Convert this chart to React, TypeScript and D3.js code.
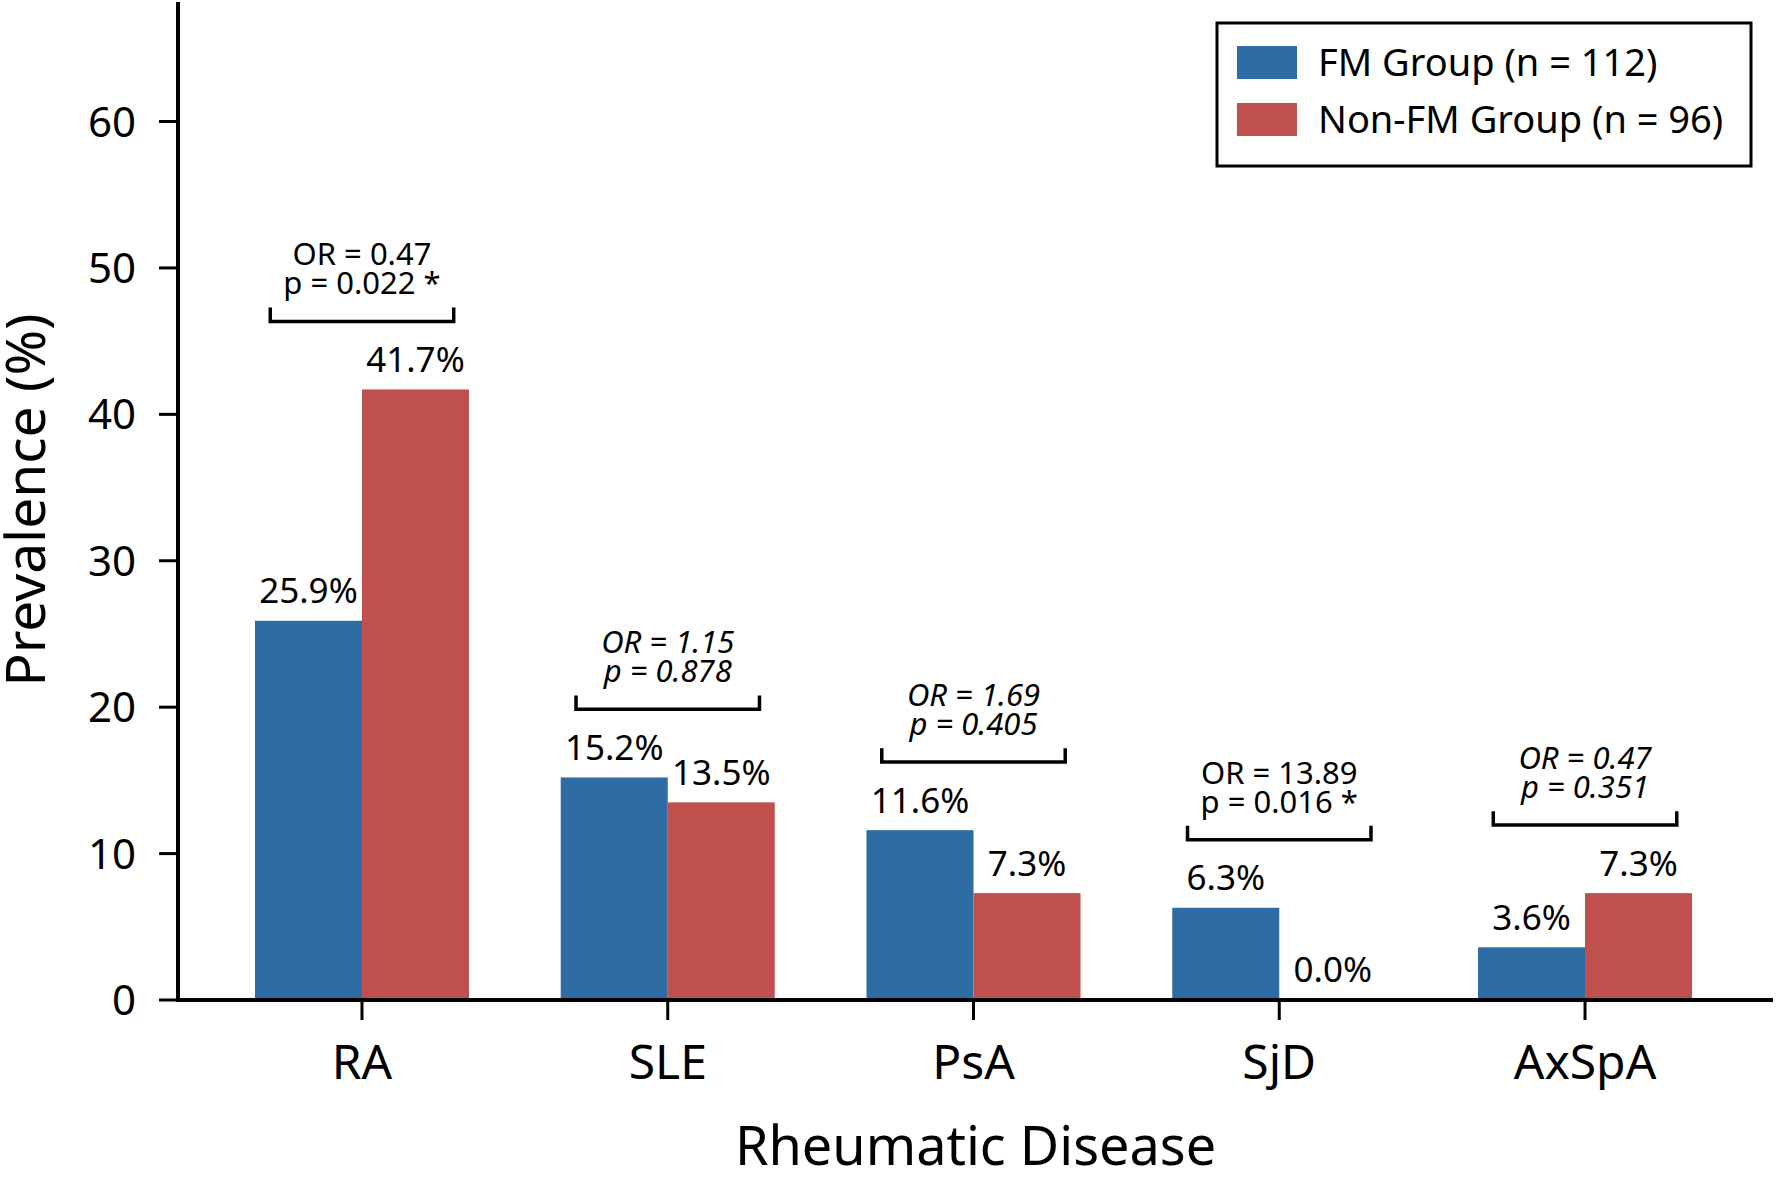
import * as d3 from "d3";

const diseases = ["RA", "SLE", "PsA", "SjD", "AxSpA"];
const fmValues = [25.9, 15.2, 11.6, 6.3, 3.6];
const nonFmValues = [41.7, 13.5, 7.3, 0.0, 7.3];
const oddsRatios = ["0.47", "1.15", "1.69", "13.89", "0.47"];
const pValues = ["0.022", "0.878", "0.405", "0.016", "0.351"];
const significant = [true, false, false, true, false];
const yTicks = [0, 10, 20, 30, 40, 50, 60];
const seriesNames = ["FM Group (n = 112)", "Non-FM Group (n = 96)"];
const seriesColors = ["#2E6DA4", "#C0504E"];

const W = 1776;
const H = 1179;
const left = 178;
const right = 1773;
const top = 0;
const bottom = 1000;
const yMax = 68.3;
const barWidth = 0.35;
const font = "'Noto Sans', 'Open Sans', sans-serif";

export default function App() {
    const x = d3.scalePoint<string>().domain(diseases).range([left - 1, right - 3]).padding(0.605);
    const step = x.step();
    const y = d3.scaleLinear().domain([0, yMax]).range([bottom, top]);
    const bw = barWidth * step;

    return (
        <svg
            width={W}
            height={H}
            viewBox={`0 0 ${W} ${H}`}
            style={{ position: "absolute", left: 0, top: 0, background: "white" }}
            fontFamily={font}
        >
            {/* bars */}
            {diseases.map((d, i) => {
                const cx = x(d)!;
                return (
                    <g key={d}>
                        <rect x={cx - bw} y={y(fmValues[i])} width={bw} height={y(0) - y(fmValues[i])} fill={seriesColors[0]} />
                        <rect x={cx} y={y(nonFmValues[i])} width={bw} height={y(0) - y(nonFmValues[i])} fill={seriesColors[1]} />
                        <text x={cx - bw / 2} y={y(fmValues[i] + 1.2)} textAnchor="middle" fontSize={35}>
                            {fmValues[i].toFixed(1)}%
                        </text>
                        <text x={cx + bw / 2} y={y(nonFmValues[i] + 1.2)} textAnchor="middle" fontSize={35}>
                            {nonFmValues[i].toFixed(1)}%
                        </text>
                    </g>
                );
            })}

            {/* comparison brackets */}
            {diseases.map((d, i) => {
                const cx = x(d)!;
                const by = Math.max(fmValues[i], nonFmValues[i]) + 4.65;
                const x1 = cx - 0.3 * step;
                const x2 = cx + 0.3 * step;
                const path = d3.path();
                path.moveTo(x1, y(by + 0.95));
                path.lineTo(x1, y(by));
                path.lineTo(x2, y(by));
                path.lineTo(x2, y(by + 0.95));
                const style = significant[i] ? "normal" : "italic";
                return (
                    <g key={"b" + d}>
                        <path d={path.toString()} fill="none" stroke="black" strokeWidth={3.5} />
                        <text x={cx} y={y(by + 3.82)} textAnchor="middle" fontSize={31} fontStyle={style}>
                            OR = {oddsRatios[i]}
                        </text>
                        <text x={cx} y={y(by + 1.85)} textAnchor="middle" fontSize={31} fontStyle={style}>
                            p = {pValues[i]}{significant[i] ? " *" : ""}
                        </text>
                    </g>
                );
            })}

            {/* y axis */}
            <line x1={left} x2={left} y1={y(yMax) + 2} y2={bottom} stroke="black" strokeWidth={4} />
            {yTicks.map((t) => (
                <g key={t}>
                    <line x1={left - 19} x2={left} y1={y(t)} y2={y(t)} stroke="black" strokeWidth={3} />
                    <text x={136} y={y(t)} dy="0.36em" textAnchor="end" fontSize={42}>
                        {t}
                    </text>
                </g>
            ))}
            <text
                transform={`translate(45, ${(top + bottom) / 2}) rotate(-90)`}
                textAnchor="middle"
                fontSize={55}
            >
                Prevalence (%)
            </text>

            {/* x axis */}
            <line x1={left - 2} x2={right} y1={bottom} y2={bottom} stroke="black" strokeWidth={4} />
            {diseases.map((d) => (
                <g key={"t" + d}>
                    <line x1={x(d)} x2={x(d)} y1={bottom} y2={bottom + 20} stroke="black" strokeWidth={3} />
                    <text x={x(d)} y={1079} textAnchor="middle" fontSize={48}>
                        {d}
                    </text>
                </g>
            ))}
            <text x={(left + right) / 2} y={1165} textAnchor="middle" fontSize={54}>
                Rheumatic Disease
            </text>

            {/* legend */}
            <rect x={1217} y={23} width={534} height={143} fill="white" stroke="black" strokeWidth={3} />
            {seriesNames.map((s, i) => (
                <g key={s}>
                    <rect x={1237} y={46 + i * 57} width={60} height={33} fill={seriesColors[i]} />
                    <text x={1318} y={76 + i * 57} fontSize={38}>
                        {s}
                    </text>
                </g>
            ))}
        </svg>
    );
}
